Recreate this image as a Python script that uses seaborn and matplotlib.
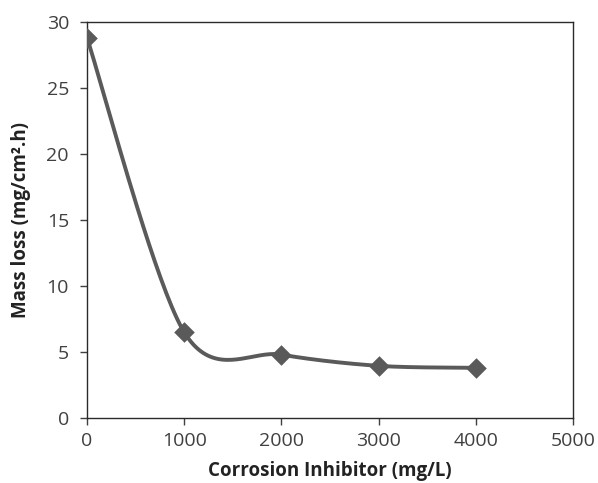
import matplotlib
matplotlib.use("Agg")
import matplotlib.pyplot as plt
import numpy as np
import seaborn as sns

# data
inhibitor = [0, 1000, 2000, 3000, 4000]
mass_loss = [28.8, 6.5, 4.8, 3.95, 3.8]

x_ticks = [0, 1000, 2000, 3000, 4000, 5000]
y_ticks = [0, 5, 10, 15, 20, 25, 30]


def excel_smooth(xs, ys, n=40, k=1 / 6.5):
    """Bezier smoothing similar to spreadsheet 'smoothed line'."""
    p = np.column_stack([xs, ys]).astype(float)
    ext = np.vstack([p[0], p, p[-1]])
    out = []
    for i in range(len(p) - 1):
        p0, p3 = ext[i + 1], ext[i + 2]
        c1 = p0 + (ext[i + 2] - ext[i]) * k
        c2 = p3 - (ext[i + 3] - ext[i + 1]) * k
        t = np.linspace(0, 1, n)[:, None]
        seg = ((1 - t) ** 3) * p0 + 3 * ((1 - t) ** 2) * t * c1 + 3 * (1 - t) * t ** 2 * c2 + t ** 3 * p3
        out.append(seg if i == 0 else seg[1:])
    curve = np.vstack(out)
    return curve[:, 0], curve[:, 1]


sns.set_theme(style="ticks")
plt.rcParams['font.family'] = ['Open Sans', 'DejaVu Sans']

fig = plt.figure(figsize=(5.98, 4.83), dpi=100)
ax = fig.add_axes([0.1455, 0.1346, 0.8125, 0.82])

line_color = "#5a5a5a"
cx, cy = excel_smooth(inhibitor, mass_loss)
ax.plot(cx, cy, color=line_color, lw=2.8, solid_capstyle="round", zorder=2)
sns.scatterplot(x=inhibitor, y=mass_loss, marker="D", s=110, color=line_color,
                edgecolor=line_color, linewidth=0, ax=ax, zorder=3)

ax.set_xlim(0, 5000)
ax.set_ylim(0, 30)
ax.set_xticks(x_ticks)
ax.set_yticks(y_ticks)
ax.tick_params(axis="both", direction="out", length=5, width=1, color="#404040",
               labelsize=14, labelcolor="#404040")
ax.tick_params(axis="y", pad=8)
ax.tick_params(axis="x", pad=5)
for s in ax.spines.values():
    s.set_color("#2a2a2a")
    s.set_linewidth(1.0)

ax.set_xlabel("Corrosion Inhibitor (mg/L)", fontsize=13.5, fontweight="bold", color="#222222", labelpad=8)
ax.set_ylabel("Mass loss (mg/cm\u00b2.h)", fontsize=13.5, fontweight="bold", color="#222222", labelpad=11)

fig.savefig("out.png", dpi=100)
